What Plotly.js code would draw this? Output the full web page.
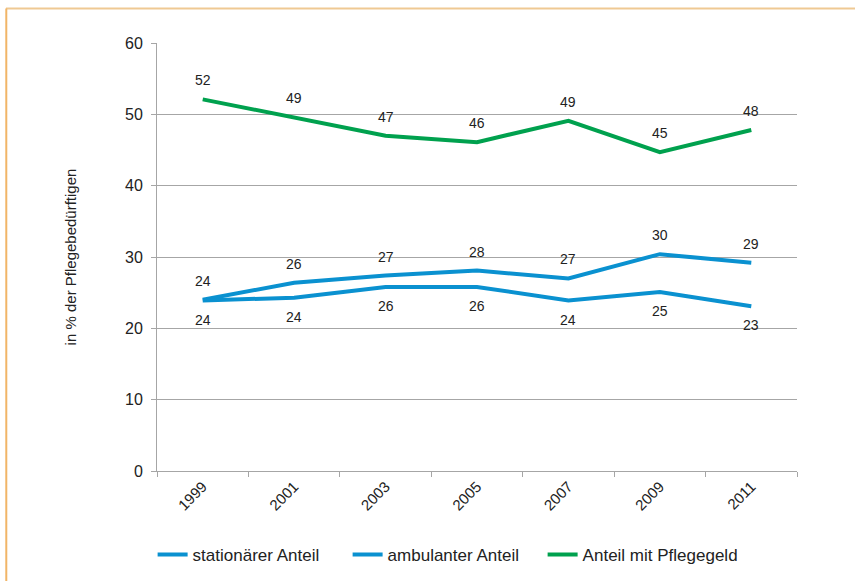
<!DOCTYPE html>
<html>
<head>
<meta charset="utf-8">
<script src="https://cdn.plot.ly/plotly-3.0.1.min.js"></script>
<style>
html,body{margin:0;padding:0;background:#fff;}
#chart{width:855px;height:581px;}
</style>
</head>
<body>
<div id="chart"></div>
<script>
const years = ["1999","2001","2003","2005","2007","2009","2011"];
const stationaer = [24.0, 26.4, 27.4, 28.1, 27.0, 30.4, 29.2];
const ambulant = [23.9, 24.3, 25.8, 25.8, 23.9, 25.1, 23.1];
const pflegegeld = [52.1, 49.6, 47.0, 46.1, 49.1, 44.7, 47.8];
const stationaerLabels = ["24","26","27","28","27","30","29"];
const ambulantLabels = ["24","24","26","26","24","25","23"];
const pflegegeldLabels = ["52","49","47","46","49","45","48"];
const seriesNames = ["stationärer Anteil","ambulanter Anteil","Anteil mit Pflegegeld"];

const blue = "#0A91D0";
const green = "#00A14E";
const font = "Liberation Sans, Arial, sans-serif";

const traces = [
  {x: years, y: stationaer, name: seriesNames[0], type: "scatter", mode: "lines", line: {color: blue, width: 4}},
  {x: years, y: ambulant, name: seriesNames[1], type: "scatter", mode: "lines", line: {color: blue, width: 4}},
  {x: years, y: pflegegeld, name: seriesNames[2], type: "scatter", mode: "lines", line: {color: green, width: 4}}
];

const annotations = [];
function addLabels(vals, labels, shift) {
  vals.forEach((v, i) => {
    annotations.push({x: i, y: v, xref: "x", yref: "y", text: labels[i], showarrow: false, yshift: shift,
      font: {family: font, size: 14, color: "#222"}});
  });
}
addLabels(stationaer, stationaerLabels, 19);
addLabels(ambulant, ambulantLabels, -19);
addLabels(pflegegeld, pflegegeldLabels, 19);

const layout = {
  width: 855, height: 581,
  margin: {l: 157, r: 58, t: 43, b: 110},
  paper_bgcolor: "#fff", plot_bgcolor: "#fff",
  font: {family: font, color: "#222"},
  showlegend: true,
  legend: {orientation: "h", xref: "container", yref: "container", x: 0.1785, xanchor: "left", y: 0.0448, yanchor: "middle",
    font: {family: font, size: 17, color: "#222"}, entrywidth: 150, entrywidthmode: "pixels", traceorder: "normal"},
  xaxis: {type: "category", range: [-0.5, 6.5], tickson: "boundaries", ticks: "outside", ticklen: 5, tickcolor: "#A6A6A6",
    showgrid: false, showline: true, linecolor: "#A6A6A6", linewidth: 1, tickangle: -45, automargin: false,
    tickfont: {family: font, size: 15, color: "#222"}, zeroline: false, fixedrange: true},
  yaxis: {range: [0, 60], dtick: 10, ticks: "outside", ticklen: 5, tickcolor: "#A6A6A6", ticklabelstandoff: 5,
    showgrid: true, gridcolor: "#A6A6A6", gridwidth: 1, showline: true, linecolor: "#A6A6A6", linewidth: 1,
    zeroline: false, tickfont: {family: font, size: 16, color: "#222"}, automargin: false,
    title: {text: "in % der Pflegebedürftigen", font: {family: font, size: 15, color: "#222"}, standoff: 44}},
  annotations: annotations,
  shapes: [
    {type: "line", xref: "paper", yref: "paper", x0: -0.236, x1: 1.1, y0: 1.0806, y1: 1.0806,
      line: {color: "#EFC993", width: 2}},
    {type: "line", xref: "paper", yref: "paper", x0: -0.2355, x1: -0.2355, y0: 1.0806, y1: -0.3,
      line: {color: "#F1B567", width: 2}}
  ]
};

Plotly.newPlot("chart", traces, layout, {displayModeBar: false, staticPlot: true});
</script>
</body>
</html>
